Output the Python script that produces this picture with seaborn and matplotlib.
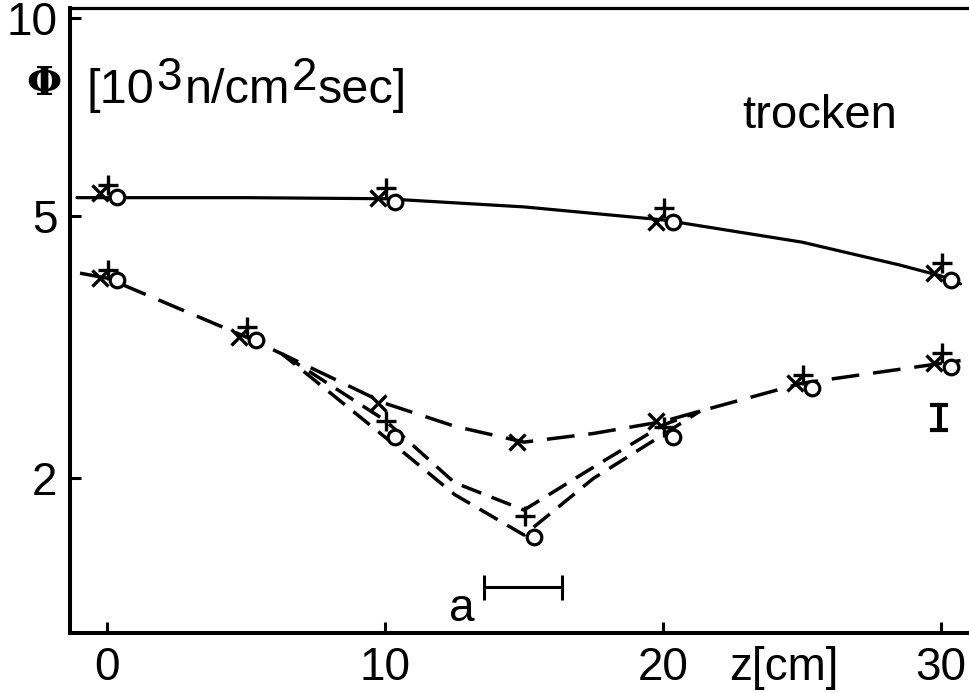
import matplotlib
matplotlib.use("Agg")
import matplotlib.pyplot as plt
import matplotlib.transforms as mtransforms
import seaborn as sns

# ---------------- data ----------------
z_top = [0, 10, 20, 30]
top_cross = [5.43, 5.34, 4.91, 4.10]
top_plus = [5.58, 5.53, 5.15, 4.25]
top_circle = [5.36, 5.26, 4.91, 4.00]

z_low = [0, 5, 10, 15, 20, 25, 30]
low_cross = [4.03, 3.28, 2.60, 2.27, 2.44, 2.79, 2.99]
low_plus = [4.15, 3.40, 2.44, 1.75, 2.39, 2.87, 3.10]
low_circle = [4.00, 3.25, 2.31, 1.63, 2.31, 2.74, 2.95]

# drawn curves
solid_z = [-1.08, 0, 5, 10, 15, 20, 25, 28.5, 30, 30.7]
solid_v = [5.34, 5.34, 5.34, 5.32, 5.17, 4.94, 4.57, 4.22, 4.06, 3.95]
dash_cross_z = [-0.97, 0, 5, 6.3, 10, 12.5, 15, 17.5, 20, 21.33, 25, 30, 30.7]
dash_cross_v = [4.10, 4.03, 3.28, 3.09, 2.60, 2.40, 2.27, 2.34, 2.44, 2.53, 2.79, 2.99, 3.02]
dash_plus_z = [6.3, 10, 12.5, 15, 17.5, 20, 21.33]
dash_plus_v = [3.09, 2.45, 1.97, 1.79, 2.08, 2.41, 2.53]
dash_circle_z = [6.3, 10, 12.5, 15, 17.5, 20, 21.33]
dash_circle_v = [3.09, 2.31, 1.89, 1.64, 2.00, 2.33, 2.53]

# annotations
a_range = [13.56, 16.37]
a_level = 1.368
err_z = 29.93
err_center = 2.48
err_low, err_high = 2.37, 2.586

x_ticks = [0, 10, 20, 30]
y_ticks = [2, 5, 10]
y_labels = ["2", "5", "10"]

# ---------------- style ----------------
sns.set_style("white")
plt.rcParams["font.family"] = ["Liberation Sans", "DejaVu Sans"]
plt.rcParams["lines.scale_dashes"] = False
plt.rcParams["text.color"] = "black"
plt.rcParams["axes.labelcolor"] = "black"

W, H = 970, 693
fig = plt.figure(figsize=(W / 100, H / 100), dpi=100)
ax = fig.add_axes([70 / W, 60 / H, 900 / W, 625 / H])
ax.set_yscale("log")
ax.set_xlim(-1.33, 31.04)
ax.set_ylim(1.164, 10.37)

K = "black"
LW = 2.3

# curves
sns.lineplot(x=solid_z, y=solid_v, color=K, lw=LW, estimator=None, errorbar=None, sort=False, ax=ax)
sns.lineplot(x=dash_cross_z, y=dash_cross_v, color=K, lw=LW + 0.2, estimator=None, errorbar=None,
             sort=False, linestyle=(0, (20, 10)), ax=ax)
sns.lineplot(x=dash_plus_z, y=dash_plus_v, color=K, lw=LW + 0.2, estimator=None, errorbar=None,
             sort=False, linestyle=(0, (15, 8)), ax=ax)
sns.lineplot(x=dash_circle_z, y=dash_circle_v, color=K, lw=LW + 0.2, estimator=None, errorbar=None,
             sort=False, linestyle=(3, (15, 8)), ax=ax)

def shift(line, dx_px):
    line.set_transform(ax.transData + mtransforms.ScaledTranslation(dx_px / 100, 0, fig.dpi_scale_trans))

def markers(z, v, marker, dx, size, mew):
    kw = dict(marker=marker, linestyle="", markersize=size, markeredgewidth=mew,
              color=K, markeredgecolor=K)
    if marker == "o":
        kw["markerfacecolor"] = "white"
    n = len(ax.lines)
    sns.lineplot(x=z, y=v, estimator=None, errorbar=None, sort=False, ax=ax, **kw)
    shift(ax.lines[n], dx)

for zz, cr, pl, ci in [(z_top, top_cross, top_plus, top_circle),
                       (z_low, low_cross, low_plus, low_circle)]:
    markers(zz, ci, "o", 10, 10.5, 2.3)
    markers(zz, cr, "x", -7, 12, 2.4)
    markers(zz, pl, "+", 1, 14, 2.4)

# bracket "a"
ax.errorbar([sum(a_range) / 2], [a_level], xerr=[[(a_range[1] - a_range[0]) / 2]],
            fmt="none", ecolor=K, elinewidth=2.2, capsize=9, capthick=2.2)
ax.text(12.75, 1.266, "a", fontsize=33, ha="center", va="center", color=K)

# error bar marker "I"
ax.errorbar([err_z], [err_center], yerr=[[err_center - err_low], [err_high - err_center]],
            fmt="none", ecolor=K, elinewidth=3.6, capsize=6.5, capthick=3.0)

# axes styling
for s in ["left", "bottom"]:
    ax.spines[s].set_linewidth(2.9)
    ax.spines[s].set_color(K)
ax.spines["top"].set_linewidth(2.3)
ax.spines["top"].set_color(K)
ax.spines["right"].set_visible(False)

ax.set_xticks(x_ticks)
ax.set_xticklabels([str(t) for t in x_ticks])
ax.set_yticks(y_ticks)
ax.set_yticklabels(y_labels)
ax.yaxis.set_minor_locator(matplotlib.ticker.NullLocator())
ax.tick_params(axis="both", which="major", direction="in", length=8, width=2.2,
               labelsize=33, colors=K, labelcolor=K, top=False, right=False,
               bottom=True, left=True)
ax.tick_params(axis="x", pad=9)
ax.tick_params(axis="y", pad=9)
ax.grid(False)
ax.set_xlabel("")
ax.set_ylabel("")

# z[cm] label
ax.annotate("z[cm]", xy=(24.35, 0), xycoords=("data", "axes fraction"),
            xytext=(0, -9), textcoords="offset points", ha="center", va="top",
            fontsize=33, color=K)

# text in figure pixel coordinates
def fx(px):
    return px / W

def fy(py):
    return 1 - py / H

fig.text(fx(44), fy(84), "Φ", fontsize=29, ha="center", va="center",
         family=["DejaVu Serif"], fontweight="bold", color=K)

FS = 35
t1 = fig.text(fx(87), fy(103), "[10", fontsize=FS, va="baseline", color=K)
t2 = ax.annotate("3", xy=(1, 0), xycoords=t1, xytext=(1, 9.5), textcoords="offset points",
                 va="bottom", ha="left", fontsize=FS - 2, color=K)
t3 = ax.annotate("n/cm", xy=(1, 0), xycoords=t2, xytext=(2, -9.5), textcoords="offset points",
                 va="bottom", ha="left", fontsize=FS, color=K)
t4 = ax.annotate("2", xy=(1, 0), xycoords=t3, xytext=(1, 9.5), textcoords="offset points",
                 va="bottom", ha="left", fontsize=FS - 2, color=K)
t5 = ax.annotate("sec]", xy=(1, 0), xycoords=t4, xytext=(1, -9.5), textcoords="offset points",
                 va="bottom", ha="left", fontsize=FS, color=K)

fig.text(fx(742), fy(128), "trocken", fontsize=34, va="baseline", ha="left", color=K)

fig.savefig("out.png", dpi=100, facecolor="white")
